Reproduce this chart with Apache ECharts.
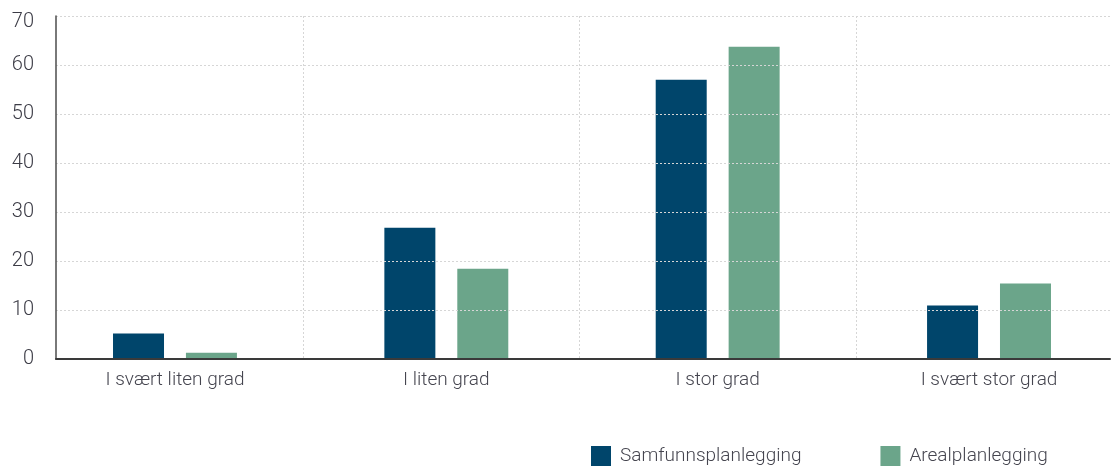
<!DOCTYPE html>
<html><head><meta charset="utf-8">
<script src="https://cdn.jsdelivr.net/npm/echarts@6/dist/echarts.min.js"></script>
<style>html,body{margin:0;padding:0;background:#fff}#c{width:1111px;height:469px}</style>
</head><body><div id="c"></div>
<script>
const categories = ['I svært liten grad', 'I liten grad', 'I stor grad', 'I svært stor grad'];
const samfunnsplanlegging = [5.2, 26.8, 57.0, 10.9];
const arealplanlegging = [1.3, 18.4, 63.7, 15.4];
const seriesNames = ['Samfunnsplanlegging', 'Arealplanlegging'];
const yMin = 0, yMax = 70, yStep = 10;
const colors = ['#00456b', '#6ba58a'];
const FONT = 'Roboto';

const chart = echarts.init(document.getElementById('c'), null, {renderer: 'canvas'});
const dotted = {type: [2, 2], color: '#d6d6d6', width: 1};
chart.setOption({
  animation: false,
  color: colors,
  textStyle: {fontFamily: FONT, fontWeight: 300},
  grid: [
    {left: 39.3, width: 1085.4, top: 16, height: 343, outerBoundsMode: 'none', containLabel: false},
    {left: 56, width: 1054, top: 16, height: 343, outerBoundsMode: 'none', containLabel: false},
    {left: 303, width: 829.5, top: 16, height: 343, outerBoundsMode: 'none', containLabel: false}
  ],
  legend: {
    data: seriesNames,
    left: 591, top: 446, padding: 0,
    itemWidth: 20, itemHeight: 20, itemGap: 79,
    icon: 'rect',
    textStyle: {fontFamily: FONT, fontWeight: 300, fontSize: 19, color: '#45454f', padding: [0, 0, 0, 4]}
  },
  xAxis: [
    {gridIndex: 0, type: 'category', data: categories,
     axisLine: {show: false}, axisTick: {show: false}, splitLine: {show: false},
     axisLabel: {fontFamily: FONT, fontWeight: 300, fontSize: 19, color: '#45454f', margin: 12}},
    {gridIndex: 1, type: 'value', min: 0, max: 1, z: 5,
     axisLine: {show: true, lineStyle: {color: '#3a3a3a', width: 2}},
     axisTick: {show: false}, axisLabel: {show: false}, splitLine: {show: false}},
    {gridIndex: 2, type: 'value', min: 0, max: 3, interval: 1,
     axisLine: {show: false}, axisTick: {show: false}, axisLabel: {show: false},
     splitLine: {show: true, lineStyle: dotted}}
  ],
  yAxis: [
    {gridIndex: 0, type: 'value', min: yMin, max: yMax, interval: yStep, show: false},
    {gridIndex: 1, type: 'value', min: yMin, max: yMax, interval: yStep, z: 5,
     axisLine: {show: true, lineStyle: {color: '#4d4d4d', width: 1.5}},
     axisTick: {show: false},
     axisLabel: {fontFamily: FONT, fontWeight: 300, fontSize: 20, color: '#3c3c46', margin: 22,
       formatter: v => v === yMax ? '{top|' + v + '}' : String(v),
       rich: {top: {fontFamily: FONT, fontWeight: 300, fontSize: 20, color: '#3c3c46', padding: [12, 0, 0, 0]}}},
     splitLine: {show: true, lineStyle: dotted}},
    {gridIndex: 2, type: 'value', min: yMin, max: yMax, interval: yStep, show: false}
  ],
  series: [
    {name: seriesNames[0], type: 'bar', xAxisIndex: 0, yAxisIndex: 0, data: samfunnsplanlegging,
     barWidth: 51, barGap: '43%', itemStyle: {color: colors[0]}},
    {name: seriesNames[1], type: 'bar', xAxisIndex: 0, yAxisIndex: 0, data: arealplanlegging,
     barWidth: 51, barGap: '43%', itemStyle: {color: colors[1]}}
  ]
});
</script>
</body></html>
